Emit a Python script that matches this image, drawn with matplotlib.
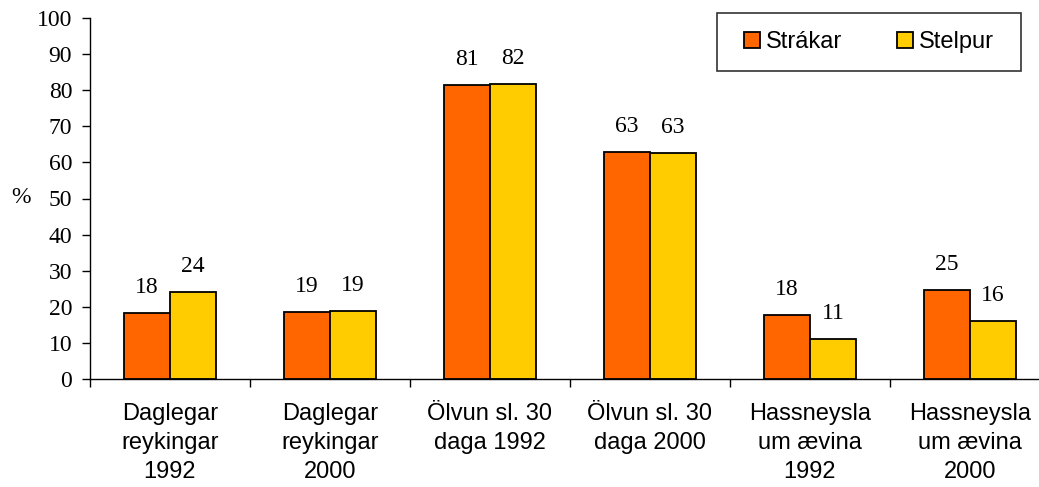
import matplotlib
matplotlib.use("Agg")
import matplotlib.pyplot as plt
from matplotlib.patches import Rectangle
import numpy as np

categories = ["Daglegar\nreykingar\n1992", "Daglegar\nreykingar\n2000",
              "Ölvun sl. 30\ndaga 1992", "Ölvun sl. 30\ndaga 2000",
              "Hassneysla\num ævina\n1992", "Hassneysla\num ævina\n2000"]
strakar = [18.4, 18.6, 81.4, 62.9, 17.6, 24.6]
stelpur = [24.1, 18.9, 81.6, 62.6, 11.1, 16.1]
series_names = ["Strákar", "Stelpur"]
yticks = list(range(0, 101, 10))

W, H = 1039, 487
fig = plt.figure(figsize=(W / 100, H / 100), dpi=100)
ax = fig.add_axes([90 / W, 1 - 379 / H, 960 / W, 361 / H])

x = np.arange(len(categories))
bw = 0.2875
b1 = ax.bar(x - bw / 2, strakar, bw, color="#FF6600", edgecolor="black", linewidth=1.3, label=series_names[0])
b2 = ax.bar(x + bw / 2, stelpur, bw, color="#FFCC00", edgecolor="black", linewidth=1.3, label=series_names[1])

serif = "Liberation Serif"
sans = "Liberation Sans"
FS = 17
for bars, vals in ((b1, strakar), (b2, stelpur)):
    for r, v in zip(bars, vals):
        ax.annotate(f"{v:.0f}", (r.get_x() + r.get_width() / 2, v), xytext=(0, 14.4),
                    textcoords="offset points", ha="center", va="baseline",
                    fontsize=FS, family=serif)

ax.set_xlim(-0.5, len(categories) - 0.5)
ax.set_ylim(0, 100)
ax.set_yticks(yticks)
ax.set_yticklabels([str(t) for t in yticks], fontsize=FS, family=serif)
ax.tick_params(axis="y", direction="out", length=5.8, width=1, pad=7)

ax.set_xticks(x)
ax.set_xticklabels(categories, fontsize=FS, family=sans, linespacing=1.41)
ax.tick_params(axis="x", which="major", length=0, pad=17.5)
ax.set_xticks(np.arange(-0.5, len(categories) + 0.5, 1), minor=True)
ax.tick_params(axis="x", which="minor", direction="out", length=5.8, width=1)

for s in ("top", "right"):
    ax.spines[s].set_visible(False)
for s in ("left", "bottom"):
    ax.spines[s].set_linewidth(1)
    ax.spines[s].set_color("black")

fig.text(21 / W, 1 - 198 / H, "%", fontsize=FS, family=serif, ha="center", va="center")

# legend frame
fig.patches.append(Rectangle((717 / W, 1 - 71 / H), (1021 - 717) / W, 58 / H,
                             transform=fig.transFigure, fill=False, edgecolor="#333333", linewidth=1.2))
leg = ax.legend(loc="center", bbox_to_anchor=(869 / W, 1 - 42 / H), bbox_transform=fig.transFigure,
                ncol=2, frameon=False, prop={"family": sans, "size": FS},
                handlelength=0.68, handleheight=0.68, handletextpad=0.25, columnspacing=2.3,
                borderpad=0.2)

fig.savefig("out.png", dpi=100)
